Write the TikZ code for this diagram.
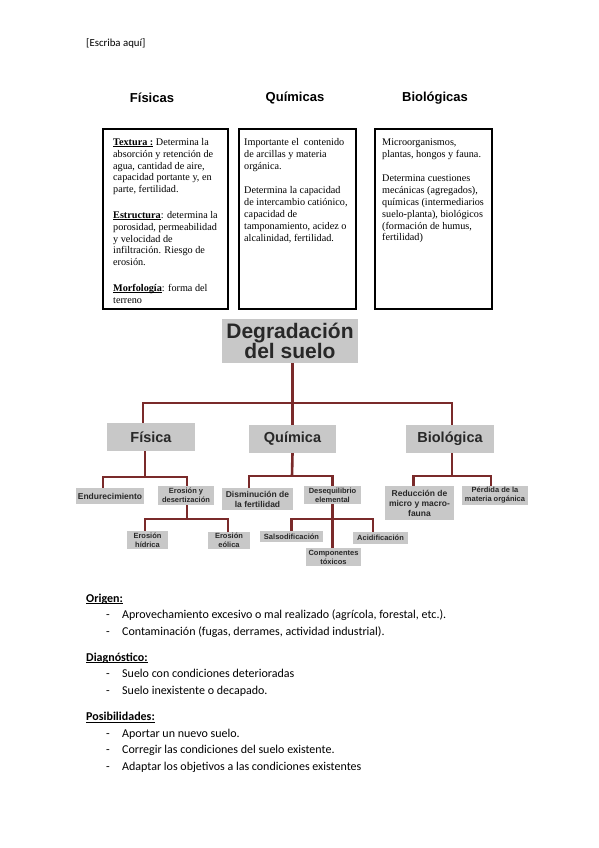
\documentclass[tikz,border=0pt]{standalone}
\usepackage{fontspec}
\setmainfont{Liberation Serif}
\setsansfont{Liberation Sans}
\newfontfamily\calibri{Carlito}
\definecolor{boxgray}{RGB}{200,200,200}
\definecolor{linered}{RGB}{122,42,42}
\definecolor{treetext}{RGB}{40,40,40}
\newcommand\ulx[1]{\setbox0\hbox{#1}\rlap{\rule[-1.7pt]{\wd0}{0.6pt}}\box0}
\tikzset{
  leaf/.style={fill=boxgray, inner sep=0pt, align=center, text=treetext,
    font=\sffamily\bfseries\fontsize{7.5}{9}\selectfont},
  leafbig/.style={leaf, font=\sffamily\bfseries\fontsize{8.5}{10}\selectfont},
  branch/.style={leaf, font=\sffamily\bfseries\fontsize{14.5}{16}\selectfont},
  conn/.style={draw=linered, line width=2.6pt},
  infobox/.style={draw=black, line width=1.2pt},
  infotext/.style={anchor=north west, inner sep=0pt, align=left,
    font=\rmfamily\fontsize{10.2}{11.9}\selectfont},
  heading/.style={font=\sffamily\bfseries\fontsize{13}{15}\selectfont},
  body/.style={anchor=base west, inner sep=0pt, font=\calibri\fontsize{12}{14}\selectfont},
}
\begin{document}
\begin{tikzpicture}[x=1pt,y=-1pt]
\useasboundingbox[fill=white] (0,0) rectangle (599,848);

\node[body, font=\calibri\fontsize{10.8}{13}\selectfont] (hdr) at (86,47) {[Escriba aquí]};

% headings
\node[heading] (hf) at (152,98) {Físicas};
\node[heading] (hq) at (295,98) {Químicas};
\node[heading] (hb) at (435,98) {Biológicas};

% info boxes
\draw[infobox] (103,129) rectangle (228,309);
\draw[infobox] (239,129) rectangle (356,309);
\draw[infobox] (375,129) rectangle (492,309);

\node[infotext] (t1) at (113,136.7) {\strut\textbf{\ulx{Textura :}} Determina la\\
absorción y retención de\\
agua, cantidad de aire,\\
capacidad portante y, en\\
parte, fertilidad.\\[13.5pt]
\textbf{\ulx{Estructura}}: determina la\\
porosidad, permeabilidad\\
y velocidad de\\
infiltración. Riesgo de\\
erosión.\\[13.5pt]
\textbf{\ulx{Morfología}}: forma del\\
terreno};

\node[infotext] (t2) at (244,136.7) {\strut Importante el~ contenido\\
de arcillas y materia\\
orgánica.\\[13pt]
Determina la capacidad\\
de intercambio catiónico,\\
capacidad de\\
tamponamiento, acidez o\\
alcalinidad, fertilidad.};

\node[infotext] (t3) at (382,136.7) {\strut Microorganismos,\\
plantas, hongos y fauna.\\[12.4pt]
Determina cuestiones\\
mecánicas (agregados),\\
químicas (intermediarios\\
suelo-planta), biológicos\\
(formación de humus,\\
fertilidad)};

% tree nodes
\node[leaf, font=\sffamily\bfseries\fontsize{21}{20}\selectfont, minimum width=136pt, minimum height=44pt] (title) at (290,341) {Degradación\\del suelo};
\node[branch, minimum width=88pt, minimum height=28pt] (fis) at (151,437) {Física};
\node[branch, minimum width=87pt, minimum height=28pt] (qui) at (292.5,439) {Química};
\node[branch, minimum width=88pt, minimum height=28pt] (bio) at (450,439) {Biológica};

\node[leafbig, minimum width=68pt, minimum height=16pt] (endu) at (110,496) {Endurecimiento};
\node[leaf, minimum width=56pt, minimum height=19pt] (eros) at (186,495.5) {Erosión y\\desertización};
\node[leaf, minimum width=41pt, minimum height=18pt] (hid) at (147.5,540) {Erosión\\hídrica};
\node[leaf, minimum width=42pt, minimum height=17pt] (eol) at (229,540.5) {Erosión\\eólica};

\node[leafbig, minimum width=71pt, minimum height=22pt] (dism) at (257.5,499) {Disminución de\\la fertilidad};
\node[leaf, minimum width=57pt, minimum height=18pt] (deseq) at (332.5,495) {Desequilibrio\\elemental};
\node[leaf, minimum width=63pt, minimum height=11pt] (sals) at (291.5,536.5) {Salsodificación};
\node[leaf, minimum width=55pt, minimum height=18pt] (comp) at (333.5,557) {Componentes\\tóxicos};
\node[leaf, minimum width=55pt, minimum height=12pt] (acid) at (380.5,538) {Acidificación};

\node[leafbig, minimum width=69pt, minimum height=34pt] (redu) at (419.5,503) {Reducción de\\micro y macro-\\fauna};
\node[leaf, minimum width=66pt, minimum height=19pt] (perd) at (495,495.5) {Pérdida de la\\materia orgánica};

% connectors
\coordinate (jt) at (292,403);
\coordinate (jf) at (145,477);
\coordinate (je) at (187,519);
\coordinate (jq) at (292,476);
\coordinate (jd) at (332,519);
\coordinate (jb) at (452,476);

\draw[conn] (qui.north) -- (qui.north |- title.south);
\draw[conn] ([xshift=-8pt]fis.north) |- (jt) -| ([xshift=2pt]bio.north);

\draw[conn] ([xshift=-6pt]fis.south) -- (jf);
\draw[conn] ([xshift=-7pt]endu.north) |- (jf) -| ([xshift=1pt]eros.north);
\draw[conn] ([xshift=1pt]eros.south) -- (je);
\draw[conn] ([xshift=-2.5pt]hid.north) |- (je) -| ([xshift=-1pt]eol.north);

\draw[conn] (qui.south) -- (jq);
\draw[conn] ([xshift=-8.5pt]dism.north) |- (jq) -| (deseq.north);
\draw[conn] (deseq.south) -- (deseq.south |- comp.north);
\draw[conn] (sals.north) |- (jd) -| ([xshift=-7.5pt]acid.north);

\draw[conn] ([xshift=2pt]bio.south) -- (jb);
\draw[conn] ([xshift=-6pt]redu.north) |- (jb) -| ([xshift=-4pt]perd.north);

% bottom text
\node[body] (o) at (86,602) {\textbf{\ulx{Origen:}}};
\node[body] (o1d) at (106,618.5) {-};
\node[body] (o1) at (122,618.5) {Aprovechamiento excesivo o mal realizado (agrícola, forestal, etc.).};
\node[body] (o2d) at (106,635) {-};
\node[body] (o2) at (122,635) {Contaminación (fugas, derrames, actividad industrial).};

\node[body] (d) at (86,661) {\textbf{\ulx{Diagnóstico:}}};
\node[body] (d1d) at (106,677.5) {-};
\node[body] (d1) at (122,677.5) {Suelo con condiciones deterioradas};
\node[body] (d2d) at (106,694) {-};
\node[body] (d2) at (122,694) {Suelo inexistente o decapado.};

\node[body] (p) at (86,720.5) {\textbf{\ulx{Posibilidades:}}};
\node[body] (p1d) at (106,737) {-};
\node[body] (p1) at (122,737) {Aportar un nuevo suelo.};
\node[body] (p2d) at (106,753) {-};
\node[body] (p2) at (122,753) {Corregir las condiciones del suelo existente.};
\node[body] (p3d) at (106,770) {-};
\node[body] (p3) at (122,770) {Adaptar los objetivos a las condiciones existentes};
\end{tikzpicture}
\end{document}
